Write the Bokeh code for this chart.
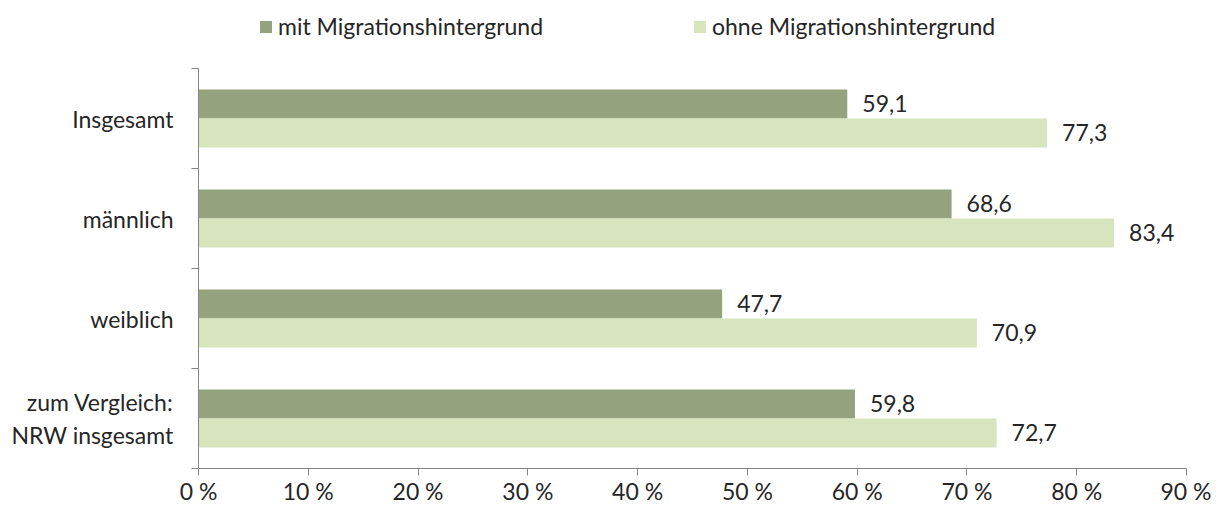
from bokeh.plotting import figure
from bokeh.models import ColumnDataSource, Range1d, FixedTicker, Legend, LegendItem
from bokeh.layouts import column
from bokeh.core.properties import value
from bokeh.embed import file_html
from bokeh.resources import INLINE

categories = ["Insgesamt", "männlich", "weiblich", "zum Vergleich:\nNRW insgesamt"]
mit_migration = [59.1, 68.6, 47.7, 59.8]
ohne_migration = [77.3, 83.4, 70.9, 72.7]
series_names = ["mit Migrationshintergrund", "ohne Migrationshintergrund"]
x_ticks = [0, 10, 20, 30, 40, 50, 60, 70, 80, 90]

FONT = "Lato"
FS = "23px"
TXT = "#262626"
AX = "#868686"
DARK = "#94A27D"
LIGHT = "#D7E4BD"
W = 1211
LEG_H = 44
MAIN_H = 507 - LEG_H
LEFT = 198

idx = list(range(1, len(categories) + 1))
fmt = lambda v: f"{v:.1f}".replace(".", ",")

src_m = ColumnDataSource(dict(y=[i - 0.145 for i in idx], x=mit_migration,
                              lab=[fmt(v) for v in mit_migration]))
src_o = ColumnDataSource(dict(y=[i + 0.145 for i in idx], x=ohne_migration,
                              lab=[fmt(v) for v in ohne_migration]))

# ---- legend strip (same series, drawn out of its visible range; only the legend shows) ----
lg = figure(width=W, height=LEG_H, output_backend="svg", toolbar_location=None,
            x_range=Range1d(0, 90), y_range=Range1d(100, 101),
            min_border_left=LEFT, min_border_right=25, min_border_top=0, min_border_bottom=0,
            x_axis_type=None, y_axis_type=None)
lg.outline_line_color = None
lg.xgrid.visible = False
lg.ygrid.visible = False
d1 = lg.hbar(y="y", right="x", left=0, height=0.29, source=src_m, fill_color=DARK, line_color=None)
d2 = lg.hbar(y="y", right="x", left=0, height=0.29, source=src_o, fill_color=LIGHT, line_color=None)
for rend, name, xpos in ((d1, series_names[0], 258), (d2, series_names[1], 692)):
    leg = Legend(items=[LegendItem(label=name, renderers=[rend], index=0)],
                 orientation="horizontal", location=(xpos - LEFT, 4),
                 glyph_width=15, glyph_height=15, label_standoff=5,
                 padding=0, margin=0, border_line_color=None, background_fill_alpha=0,
                 label_text_font=FONT, label_text_font_size=FS, label_text_color=TXT)
    lg.add_layout(leg, "center")

# ---- main chart ----
p = figure(width=W, height=MAIN_H, output_backend="svg", toolbar_location=None,
           x_range=Range1d(0, 90), y_range=Range1d(len(categories) + 0.5, 0.5),
           min_border_left=LEFT, min_border_right=25, min_border_top=24, min_border_bottom=35)
p.outline_line_color = None
p.xgrid.visible = False
p.ygrid.visible = False

p.hbar(y="y", right="x", left=0, height=0.29, source=src_m, fill_color=DARK, line_color=None)
p.hbar(y="y", right="x", left=0, height=0.29, source=src_o, fill_color=LIGHT, line_color=None)

for src in (src_m, src_o):
    p.text(x="x", y="y", text="lab", source=src, x_offset=15, y_offset=-1,
           text_baseline="middle", text_align="left", text_font=value(FONT),
           text_font_size=FS, text_color=TXT)

xa = p.xaxis[0]
xa.ticker = FixedTicker(ticks=x_ticks)
xa.major_label_overrides = {t: f"{t} %" for t in x_ticks}
xa.minor_tick_line_color = None
xa.major_tick_in = 0
xa.major_tick_out = 7
xa.major_label_standoff = 1
xa.axis_line_color = AX
xa.major_tick_line_color = AX
xa.major_label_text_font = FONT
xa.major_label_text_font_size = FS
xa.major_label_text_color = TXT

ya = p.yaxis[0]
ya.ticker = FixedTicker(ticks=idx, minor_ticks=[i - 0.5 for i in idx] + [idx[-1] + 0.5])
ya.major_label_overrides = {i: c for i, c in zip(idx, categories)}
ya.major_tick_in = 0
ya.major_tick_out = 0
ya.major_tick_line_color = None
ya.minor_tick_in = 0
ya.minor_tick_out = 7
ya.minor_tick_line_color = AX
ya.axis_line_color = AX
ya.major_label_standoff = 18
ya.major_label_text_font = FONT
ya.major_label_text_font_size = FS
ya.major_label_text_color = TXT
ya.major_label_text_align = "right"

layout = column(lg, p, spacing=0)
open("out.html", "w").write(file_html(layout, INLINE))
